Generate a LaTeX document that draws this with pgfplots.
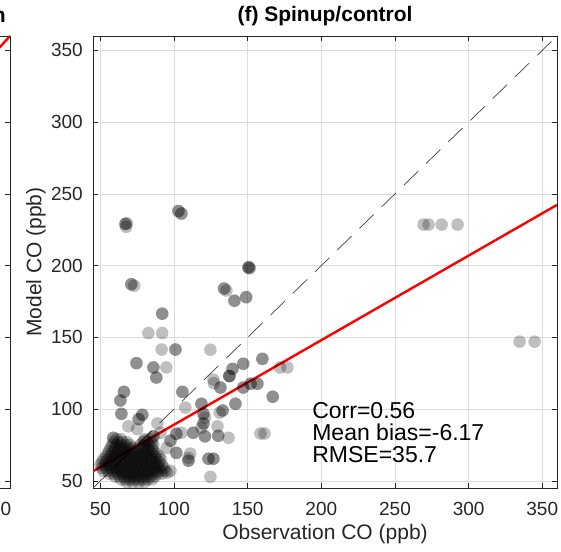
\documentclass[border=0pt]{standalone}
\usepackage{fontspec}
\setmainfont{Liberation Sans}
\usepackage{pgfplots}
\pgfplotsset{compat=1.18}
\definecolor{axgray}{HTML}{262626}
\definecolor{gridgray}{HTML}{DCDCDC}
\pgfdeclareplotmark{filldot}{\pgfpathcircle{\pgfpoint{0pt}{0pt}}{\pgfplotmarksize}\pgfusepathqfill}

\pgfplotstableread{
x y
67 229
67 229
67.5 227
68 229.5
103 238
103 238
105 236
105 236.5
150.5 198.6
150.5 198.6
151 199
151.5 198
134 184
134 184
135.6 182.6
141 175.5
141 175.5
149 178
149 178
71 187
71 187
73 186
92 166.5
92 166.5
82.6 153
92 153
91.6 141.5
101 141.5
101 141.5
124.7 141.4
74.5 132
74.5 132
86 129
86 129
94.8 129
88 122
88 122
66 112
66 112
63.6 106
63.6 106
105.7 112
105.7 112
160 135
160 135
147 131.6
147 131.6
139.7 128
139.7 128
137.6 123
137.6 123
137.6 123
126.8 120.5
172 129
177 129
131.5 115
131.5 115
147 115
147 115
152 117.7
152 117.7
156.6 117.7
156.6 117.7
127 118
167 108.6
167 108.6
141.7 103.7
141.7 103.7
133 99
133 99
131 97.5
118.6 103.7
118.6 103.7
107.7 101
120 96.7
120 96.7
121 94
120 90
120 90
118.6 87
129.5 88
121 81
121 81
130 81.4
130 81.4
137 80
158.7 83
161.4 83
123.4 65.4
123.4 65.4
126.8 65.4
126.8 65.4
124.7 52.8
64.3 96.7
64.3 96.7
78.5 96
78.5 96
76 93
76 93
69 88
75 86
88.7 90
58.8 80
58.8 80
80.6 78
86 81
86 81
95 73
97.6 78
97.6 78
101.6 82.8
101.6 82.8
105 83.5
113 83.5
113 83.5
90.8 83.5
101.6 69.5
101.6 69.5
109.8 66
109.8 64
109.8 64
111 69
97.6 57
95.5 55.6
269.4 228.6
272.8 228.6
281.7 228.6
292.5 228.6
334.6 147
344.8 147
}\sparsepts

\pgfplotstableread{
x y
68 49
72 49
76 49
80 49
64 51
67 51
70 51
73 51
76 51
79 51
82 51
85 51
60 53
63 53
66 53
69 53
72 53
75 53
78 53
81 53
84 53
87 53
56 55
59 55
62 55
65 55
68 55
71 55
74 55
77 55
80 55
83 55
86 55
89 55
92 55
52 57
55 57
58 57
61 57
64 57
67 57
70 57
73 57
76 57
79 57
82 57
85 57
88 57
91 57
94 57
51 59
54 59
57 59
60 59
63 59
66 59
69 59
72 59
75 59
78 59
81 59
84 59
87 59
90 59
93 59
50 61
53 61
56 61
59 61
62 61
65 61
68 61
71 61
74 61
77 61
80 61
83 61
86 61
89 61
92 61
51 63
54 63
57 63
60 63
63 63
66 63
69 63
72 63
75 63
78 63
81 63
84 63
87 63
90 63
52 65
55 65
58 65
61 65
64 65
67 65
70 65
73 65
76 65
79 65
82 65
85 65
88 65
91 65
54 67
57 67
60 67
63 67
66 67
69 67
72 67
75 67
78 67
81 67
84 67
87 67
90 67
55 69
58 69
61 69
64 69
67 69
70 69
73 69
76 69
79 69
82 69
85 69
88 69
56 71
59 71
62 71
65 71
68 71
71 71
74 71
77 71
80 71
83 71
86 71
57 73
60 73
63 73
66 73
69 73
72 73
76 73
79 73
82 73
85 73
58 75
61 75
64 75
67 75
70 75
77 75
80 75
83 75
86 75
59 77
62 77
65 77
68 77
79 77
82 77
85 77
61 79
64 79
80 79
84 79
}\blobpts

\begin{document}
\begin{tikzpicture}
% fragment of the neighbouring panel on the left
\begin{axis}[
  at={(-83pt,0pt)}, anchor=south west, xshift=-464pt,
  scale only axis, width=464pt, height=452pt,
  xmin=45, xmax=360, ymin=45, ymax=360,
  xtick={50,100,150,200,250,300,350},
  ytick={50,100,150,200,250,300,350},
  tick align=inside, major tick length=5pt,
  axis line style={axgray, line width=0.6pt},
  every tick/.style={axgray, line width=0.6pt},
  /pgf/number format/assume math mode=true,
  tick label style={font=\fontsize{19}{22}\selectfont, text=axgray},
  xticklabel style={inner sep=0pt, yshift=-14pt},
  yticklabel style={inner sep=0pt, xshift=-10pt},
]
\addplot[red, line width=2.4pt] coordinates {(290,281) (360,360)};
\end{axis}
\node[anchor=base east, inner sep=0pt, font=\fontsize{21}{24}\selectfont\bfseries] at (-87pt,465pt) {n};

% main panel
\begin{axis}[
  at={(0pt,0pt)}, anchor=south west,
  scale only axis, width=464pt, height=452pt,
  xmin=45, xmax=360, ymin=45, ymax=360,
  xtick={50,100,150,200,250,300,350},
  ytick={50,100,150,200,250,300,350},
  grid=major, major grid style={gridgray, line width=0.5pt},
  tick align=inside, major tick length=5pt,
  axis line style={axgray, line width=0.6pt},
  every tick/.style={axgray, line width=0.6pt},
  /pgf/number format/assume math mode=true,
  tick label style={font=\fontsize{19}{22}\selectfont, text=axgray},
  xticklabel style={inner sep=0pt, yshift=-14pt},
  yticklabel style={inner sep=0pt, xshift=-10pt},
  xlabel={Observation CO (ppb)},
  ylabel={Model CO (ppb)},
  label style={font=\fontsize{21}{24}\selectfont, text=axgray},
  xlabel style={at={(axis description cs:0.5,-0.115)}, anchor=base},
  ylabel style={at={(axis description cs:-0.1228,0.5)}, anchor=center},
  title={(f) Spinup/control},
  title style={font=\fontsize{21}{24}\selectfont\bfseries, at={(axis description cs:0.5,1)}, anchor=base, yshift=8pt},
  clip=true,
]
\addplot[only marks, mark=filldot, mark size=6.3pt,
  mark options={fill=black, fill opacity=0.25}] table[x=x,y=y] {\blobpts};
\addplot[only marks, mark=filldot, mark size=6.3pt,
  mark options={fill=black, fill opacity=0.25}] table[x=x,y=y] {\sparsepts};
\addplot[black!75, line width=0.7pt, dash pattern=on 20pt off 11pt] coordinates {(45,45) (360,360)};
\addplot[red, line width=2.4pt] coordinates {(45,56.7) (360,242.3)};
\node[anchor=base west, font=\fontsize{23}{26}\selectfont] at (axis cs:191.5,93.3) {Corr=0.56};
\node[anchor=base west, font=\fontsize{23}{26}\selectfont] at (axis cs:191.5,77.9) {Mean bias=-6.17};
\node[anchor=base west, font=\fontsize{23}{26}\selectfont] at (axis cs:191.5,62.8) {RMSE=35.7};
\end{axis}
\pgfresetboundingbox
\path[use as bounding box] (-93pt,-63pt) rectangle (468pt,488pt);
\end{tikzpicture}
\end{document}
